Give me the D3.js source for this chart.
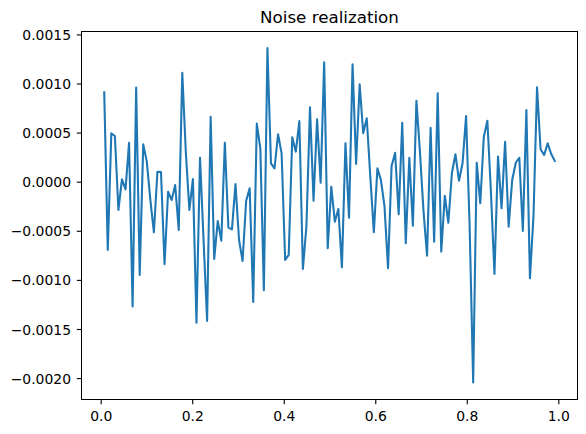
<!DOCTYPE html>
<html>
<head>
<meta charset="utf-8">
<script src="https://cdn.jsdelivr.net/npm/d3@7"></script>
<style>
  html, body { margin: 0; padding: 0; background: #fff; }
  svg { display: block; }
  text { font-family: "DejaVu Sans", sans-serif; fill: #000; }
</style>
</head>
<body>
<svg id="chart" width="586" height="434"></svg>
<script>
// ---------------- data ----------------
const chartTitle = "Noise realization";

// noise samples (128 points)
const noise = [
  0.00091, -0.000696, 0.000493, 0.000465, -0.000288, 0.000024, -0.000078, 0.000397,
  -0.00127, 0.00096, -0.00095, 0.00038, 0.000204, -0.000186, -0.000515, 0.000102,
  0.000099, -0.000841, -0.000102, -0.000186, -0.000034, -0.000492, 0.00111, 0.0003,
  -0.000288, 0.000027, -0.001436, 0.000244, -0.000594, -0.001419, 0.000662, -0.000787,
  -0.0004, -0.0006, 0.000397, -0.000468, -0.000485, -0.000023, -0.000594, -0.000808,
  -0.000197, -0.000068, -0.001225, 0.000591, 0.00034, -0.001106, 0.00136, 0.000187,
  0.000136, 0.000483, 0.000289, -0.000797, -0.000746, 0.000452, 0.000305, 0.000618,
  -0.000889, -0.000451, 0.000757, -0.000193, 0.000635, -0.00001, 0.001216, -0.000678,
  -0.000051, -0.000407, -0.000278, -0.000872, 0.000391, -0.000367, 0.001195, 0.00018,
  0.000992, 0.000493, 0.000646, 0.00005, -0.000515, 0.000136, 0.000017, -0.00025,
  -0.000882, 0.00016, 0.000295, -0.000332, 0.000601, -0.000627, 0.000244, -0.000448,
  0.000825, 0.0003, -0.0003, -0.000754, 0.00055, -0.000611, 0.0009, -0.000713,
  -0.000143, -0.000418, 0.000086, 0.000279, 0.00001, 0.000187, 0.000669, -0.00045,
  -0.002045, 0.000193, -0.00022, 0.000458, 0.000621, -0.0001, -0.00094, 0.000255,
  -0.000271, 0.000407, -0.000458, 0.000017, 0.000193, 0.000244, -0.000502, 0.00073,
  -0.000984, -0.00035, 0.000961, 0.00033, 0.000272, 0.000391, 0.000282, 0.000211
];

const xTickValues = [0, 0.2, 0.4, 0.6, 0.8, 1.0];
const xTickLabels = ["0.0", "0.2", "0.4", "0.6", "0.8", "1.0"];
const yTickValues = [0.0015, 0.0010, 0.0005, 0.0, -0.0005, -0.0010, -0.0015, -0.0020];
const yTickLabels = ["0.0015", "0.0010", "0.0005", "0.0000", "\u22120.0005", "\u22120.0010", "\u22120.0015", "\u22120.0020"];
const yLimits = [-0.002216, 0.0015275];

// ---------------- layout ----------------
const W = 586, H = 434;
const m = { left: 81.7, top: 31.7, right: W - 577.3, bottom: H - 399.3 };
const iw = W - m.left - m.right, ih = H - m.top - m.bottom;
const lineColor = "#1f77b4";
const tickLen = 4.86, tickPad = 4.86, fs = 13.9;

// sample positions: 128 interior points of a uniform grid on [0,1]
const N = noise.length;
const pts = noise.map((v, i) => ({ x: (i + 1) / (N + 1), y: v }));

const xExt = d3.extent(pts, d => d.x);
const xPad = 0.05 * (xExt[1] - xExt[0]);
const x = d3.scaleLinear().domain([xExt[0] - xPad, xExt[1] + xPad]).range([0, iw]);
const y = d3.scaleLinear().domain(yLimits).range([ih, 0]);

const svg = d3.select("#chart");
const g = svg.append("g").attr("transform", `translate(${m.left},${m.top})`);

// line
g.append("path")
  .datum(pts)
  .attr("fill", "none")
  .attr("stroke", lineColor)
  .attr("stroke-width", 2.08)
  .attr("stroke-linejoin", "round")
  .attr("stroke-linecap", "square")
  .attr("d", d3.line().x(d => x(d.x)).y(d => y(d.y)));

// axes
const xAxis = d3.axisBottom(x)
  .tickValues(xTickValues)
  .tickFormat((d, i) => xTickLabels[i])
  .tickSize(tickLen).tickSizeOuter(0).tickPadding(tickPad);
const yAxis = d3.axisLeft(y)
  .tickValues(yTickValues)
  .tickFormat((d, i) => yTickLabels[i])
  .tickSize(tickLen).tickSizeOuter(0).tickPadding(tickPad);

const gx = g.append("g").attr("transform", `translate(0,${ih})`).call(xAxis);
const gy = g.append("g").call(yAxis);

[gx, gy].forEach(a => {
  a.select(".domain").remove();
  a.selectAll(".tick line").attr("stroke", "#000").attr("stroke-width", 1.11);
  a.selectAll(".tick text")
    .attr("fill", "#000")
    .style("font-family", '"DejaVu Sans", sans-serif')
    .style("font-size", fs + "px");
});
gx.selectAll(".tick text").attr("y", tickLen + tickPad + 2.5).attr("dy", "0.71em");
gy.selectAll(".tick text").attr("x", -(tickLen + tickPad + 1)).attr("dy", "0.36em");

// frame (spines)
g.append("rect")
  .attr("x", 0).attr("y", 0).attr("width", iw).attr("height", ih)
  .attr("fill", "none").attr("stroke", "#000").attr("stroke-width", 1.11)
  .attr("shape-rendering", "crispEdges");

// title
svg.append("text")
  .attr("x", m.left + iw / 2)
  .attr("y", m.top - 8.3)
  .attr("text-anchor", "middle")
  .style("font-size", "16.7px")
  .text(chartTitle);
</script>
</body>
</html>
